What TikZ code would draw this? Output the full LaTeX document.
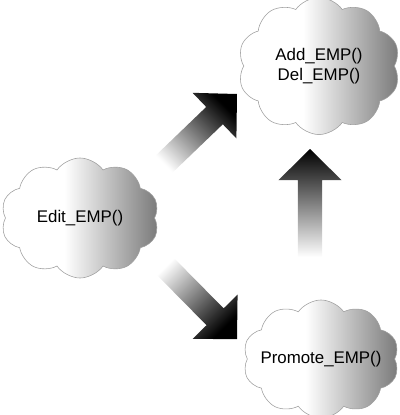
\documentclass[tikz,border=0pt]{standalone}
\usepackage{fontspec}
\setmainfont{Liberation Sans}
\usetikzlibrary{shapes.symbols,calc}

\pgfdeclarehorizontalshading{cloudshade}{100bp}{color(0bp)=(white); color(45bp)=(white);
  color(75bp)=(black!52); color(100bp)=(black!52)}
\tikzset{
  cloudbox/.style={cloud, cloud puffs=10, cloud puff arc=110, draw=gray!75,
    shading=cloudshade, inner sep=0pt, align=center,
    font=\fontsize{12}{14}\selectfont},
}
% block arrow from #1 to #2, shading turned by #3
\newcommand{\fatarrow}[3]{%
  \coordinate (h) at ($(#2)!0.78cm!(#1)$);
  \shade[top color=black, bottom color=white, shading angle=#3]
    ($(#1)!0.3cm!90:(#2)$) -- ($(h)!0.3cm!90:(#2)$) -- ($(h)!0.79cm!90:(#2)$) -- (#2)
    -- ($(h)!0.79cm!-90:(#2)$) -- ($(h)!0.3cm!-90:(#2)$) -- ($(#1)!0.3cm!-90:(#2)$) -- cycle;}

\begin{document}
\begin{tikzpicture}[x=0.025cm, y=-0.025cm]
  \useasboundingbox (0,0) rectangle (400,415);
  \node[cloudbox, minimum width=4.05cm, minimum height=3cm] (adddel) at (319,66) {Add\_EMP()\\Del\_EMP()};
  \node[cloudbox, minimum width=3.95cm, minimum height=3cm, inner xsep=-2mm] (edit) at (80,218) {Edit\_EMP()};
  \node[cloudbox, minimum width=3.9cm, minimum height=2.95cm, inner xsep=-6mm] (promote) at (321,359) {Promote\_EMP()};
  \coordinate (up1) at (160,168);
  \coordinate (up2) at (237,94);
  \coordinate (dn1) at (161,262);
  \coordinate (dn2) at (237,339);
  \coordinate (pr1) at (310,257);
  \coordinate (pr2) at (310,149);
  \fatarrow{up1}{up2}{-45}
  \fatarrow{dn1}{dn2}{-135}
  \fatarrow{pr1}{pr2}{0}
\end{tikzpicture}
\end{document}
